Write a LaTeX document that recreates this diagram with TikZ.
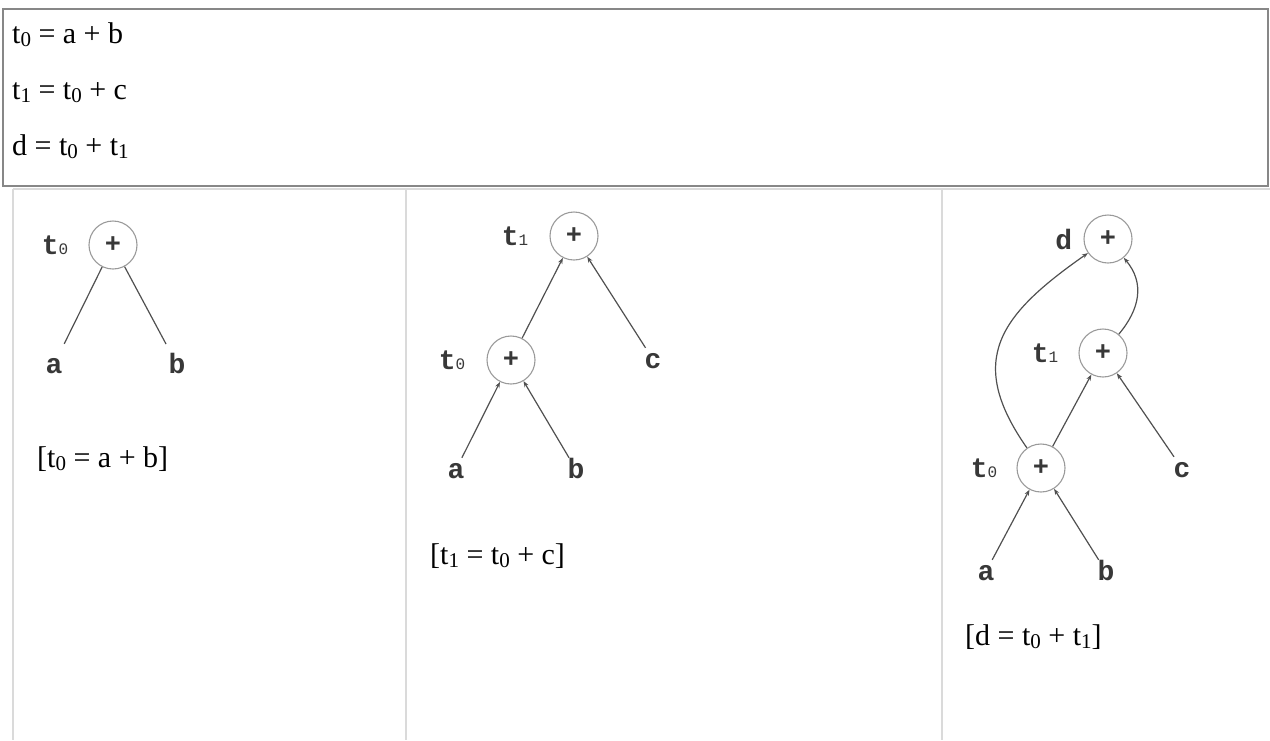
\documentclass[tikz,border=0pt]{standalone}
\usepackage{fontspec}
\setmainfont{Liberation Serif}
\newfontfamily\courierfont{Liberation Mono}
\usetikzlibrary{positioning, arrows.meta}
\definecolor{boxGray}{HTML}{878787}
\definecolor{ruleGray}{HTML}{DADADA}
\definecolor{edgeGray}{HTML}{505050}
\definecolor{circleGray}{HTML}{9A9A9A}
\definecolor{labelGray}{HTML}{383838}
\newcommand{\ix}[1]{\raisebox{-3pt}{\fontsize{21}{21}\selectfont #1}}
\newcommand{\tsub}[1]{{\fontsize{16}{16}\selectfont\mdseries #1}}

\begin{document}
\begin{tikzpicture}[
    x=1pt, y=-1pt,
    >={Stealth[length=6pt,width=4.5pt]},
    opnode/.style={circle, draw=circleGray, line width=1.1pt, minimum size=48pt, inner sep=0pt, text=labelGray, font=\courierfont\bfseries\fontsize{27}{27}\selectfont},
    leaf/.style={inner sep=3pt, text height=17pt, text depth=0pt, text=labelGray, font=\courierfont\bfseries\fontsize{28}{28}\selectfont},
    tag/.style={inner sep=0pt, text=labelGray, font=\courierfont\bfseries\fontsize{28}{28}\selectfont},
    eqtext/.style={anchor=base west, inner sep=0pt, font=\fontsize{30}{30}\selectfont},
    every edge/.style={draw=edgeGray, line width=1.2pt}
]
    \useasboundingbox (0,0) rectangle (1270,740);

    % frame and table rules
    \draw[boxGray, line width=2pt] (3,9) rectangle (1268,186);
    \draw[ruleGray, line width=2.5pt] (13,189) -- (1270,189);
    \draw[ruleGray, line width=2pt] (13,189) -- (13,740);
    \draw[ruleGray, line width=2pt] (406,189) -- (406,740);
    \draw[ruleGray, line width=2pt] (942,189) -- (942,740);

    \node[eqtext] (eqA) at (12,43) {t\ix{0} = a + b};
    \node[eqtext] (eqB) at (12,99) {t\ix{1} = t\ix{0} + c};
    \node[eqtext] (eqC) at (12,155) {d = t\ix{0} + t\ix{1}};

    % first tree
    \node[opnode] (T0a) at (113,245) {+};
    \node[tag, left=20pt of T0a] (T0a-lbl) {t\tsub{0}};
    \node[leaf] (Aa) at (54,364.5) {a};
    \node[leaf] (Ba) at (177,364.5) {b};
    \path (T0a) edge[shorten >=10pt] (Aa)
          (T0a) edge[shorten >=10pt] (Ba);
    \node[eqtext] (capA) at (37,467) {[t\ix{0} = a + b]};

    % second tree
    \node[opnode] (T1b) at (574,236) {+};
    \node[tag, left=21pt of T1b] (T1b-lbl) {t\tsub{1}};
    \node[opnode] (T0b) at (511,360) {+};
    \node[tag, left=21pt of T0b] (T0b-lbl) {t\tsub{0}};
    \node[leaf] (Cb) at (653,359.5) {c};
    \node[leaf] (Ab) at (456,469.5) {a};
    \node[leaf] (Bb) at (576,469.5) {b};
    \path[->] (Ab) edge (T0b)
          (Bb) edge (T0b)
          (T0b) edge (T1b)
          (Cb) edge (T1b);
    \node[eqtext] (capB) at (430,564) {[t\ix{1} = t\ix{0} + c]};

    % third tree
    \node[opnode] (Dc) at (1108,239) {+};
    \node[tag, left=11pt of Dc] (Dc-lbl) {d};
    \node[opnode] (T1c) at (1103,353) {+};
    \node[tag, left=20pt of T1c] (T1c-lbl) {t\tsub{1}};
    \node[opnode] (T0c) at (1041,468) {+};
    \node[tag, left=19pt of T0c] (T0c-lbl) {t\tsub{0}};
    \node[leaf] (Cc) at (1182,468.5) {c};
    \node[leaf] (Ac) at (986,571.5) {a};
    \node[leaf] (Bc) at (1106,571.5) {b};
    \path[->] (Ac) edge (T0c)
          (Bc) edge (T0c)
          (T0c) edge (T1c)
          (Cc) edge (T1c)
          (T0c) edge[out=125, in=215, looseness=1.35] (Dc)
          (T1c) edge[out=50, in=-50, looseness=1.1] (Dc);
    \node[eqtext] (capC) at (965,645) {[d = t\ix{0} + t\ix{1}]};
\end{tikzpicture}
\end{document}
